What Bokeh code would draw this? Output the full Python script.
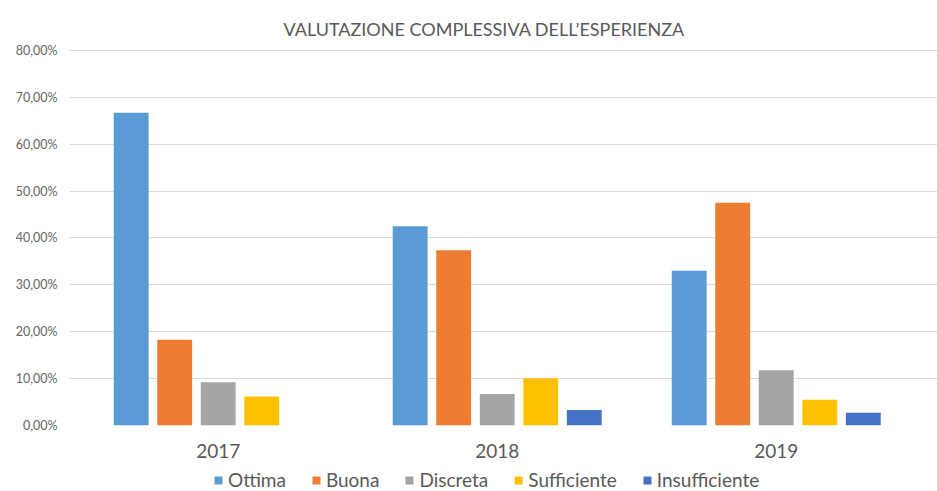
from bokeh.plotting import figure
from bokeh.layouts import column
from bokeh.models import Range1d, FixedTicker, Legend, LegendItem, ColumnDataSource
from bokeh.embed import file_html
from bokeh.resources import INLINE

# ---- data ----
categories = ["2017", "2018", "2019"]
series = ["Ottima", "Buona", "Discreta", "Sufficiente", "Insufficiente"]
ottima = [66.7, 42.5, 33.0]
buona = [18.3, 37.4, 47.5]
discreta = [9.2, 6.7, 11.8]
sufficiente = [6.2, 10.1, 5.5]
insufficiente = [0.0, 3.3, 2.7]
y_ticks = [0, 10, 20, 30, 40, 50, 60, 70, 80]
y_tick_labels = ["0,00%", "10,00%", "20,00%", "30,00%", "40,00%",
                 "50,00%", "60,00%", "70,00%", "80,00%"]

values = [ottima, buona, discreta, sufficiente, insufficiente]
colors = ["#5B9BD5", "#ED7D31", "#A5A5A5", "#FFC000", "#4472C4"]

FONT = "Lato"
TXT = "#595959"

p = figure(width=937, height=467, output_backend="svg", toolbar_location=None,
           x_range=Range1d(-0.533, 2.578), y_range=Range1d(0, 80.2),
           min_border_left=69, min_border_right=0, min_border_top=49,
           min_border_bottom=42)

p.title.text = "VALUTAZIONE COMPLESSIVA DELL\u2019ESPERIENZA"
p.title.align = "left"
p.title.offset = 214
p.title.vertical_align = "top"
p.title.text_font = FONT
p.title.text_font_size = "18px"
p.title.text_font_style = "normal"
p.title.text_color = TXT
p.title.standoff = 15

step = 0.156
bw = 0.125
sources = []
for k, (name, vals, col) in enumerate(zip(series, values, colors)):
    xs = [i + (k - 2) * step for i in range(len(categories))]
    src = ColumnDataSource(dict(x=xs, top=vals))
    sources.append(src)
    p.vbar(x="x", top="top", bottom=0, width=bw, source=src,
           fill_color=col, line_color=None)

p.outline_line_color = None
p.xgrid.grid_line_color = None
p.ygrid.grid_line_color = "#D9D9D9"
p.ygrid.grid_line_width = 1
p.ygrid.ticker = FixedTicker(ticks=y_ticks)

p.xaxis.ticker = FixedTicker(ticks=list(range(len(categories))))
p.xaxis.major_label_overrides = {i: c for i, c in enumerate(categories)}
p.xaxis.axis_line_color = None
p.xaxis.major_tick_line_color = None
p.xaxis.major_tick_out = 0
p.xaxis.minor_tick_line_color = None
p.xaxis.minor_tick_out = 0
p.xaxis.major_label_text_font = FONT
p.xaxis.major_label_text_font_size = "19px"
p.xaxis.major_label_text_color = TXT
p.xaxis.major_label_standoff = 18

p.yaxis.ticker = FixedTicker(ticks=y_ticks)
p.yaxis.major_label_overrides = dict(zip(y_ticks, y_tick_labels))
p.yaxis.axis_line_color = None
p.yaxis.major_tick_line_color = None
p.yaxis.major_tick_out = 0
p.yaxis.minor_tick_line_color = None
p.yaxis.minor_tick_out = 0
p.yaxis.major_label_text_font = FONT
p.yaxis.major_label_text_font_size = "12.5px"
p.yaxis.major_label_text_color = "#666666"
p.yaxis.major_label_standoff = 12

# legend strip below the chart (frames are aligned by the column layout)
lg = figure(width=937, height=24, output_backend="svg", toolbar_location=None,
            x_range=Range1d(0, 1), y_range=Range1d(0, 1),
            x_axis_location=None, y_axis_location=None,
            min_border_left=69, min_border_right=0, min_border_top=0,
            min_border_bottom=0)
lg.outline_line_color = None
lg.xgrid.grid_line_color = None
lg.ygrid.grid_line_color = None
items = []
for name, col, src in zip(series, colors, sources):
    r = lg.vbar(x="x", top="top", bottom=0, width=bw, source=src,
                fill_color=col, line_color=None, visible=False)
    items.append(LegendItem(label=name, renderers=[r]))
legend = Legend(items=items, orientation="horizontal", location=(144, 0),
                label_text_font=FONT, label_text_font_size="19px",
                label_text_color=TXT, glyph_width=10, glyph_height=10,
                label_standoff=5, spacing=25, padding=0, margin=0,
                border_line_color=None, background_fill_alpha=0)
lg.add_layout(legend)

layout = column(p, lg, spacing=0)
open("out.html", "w").write(file_html(layout, INLINE))
